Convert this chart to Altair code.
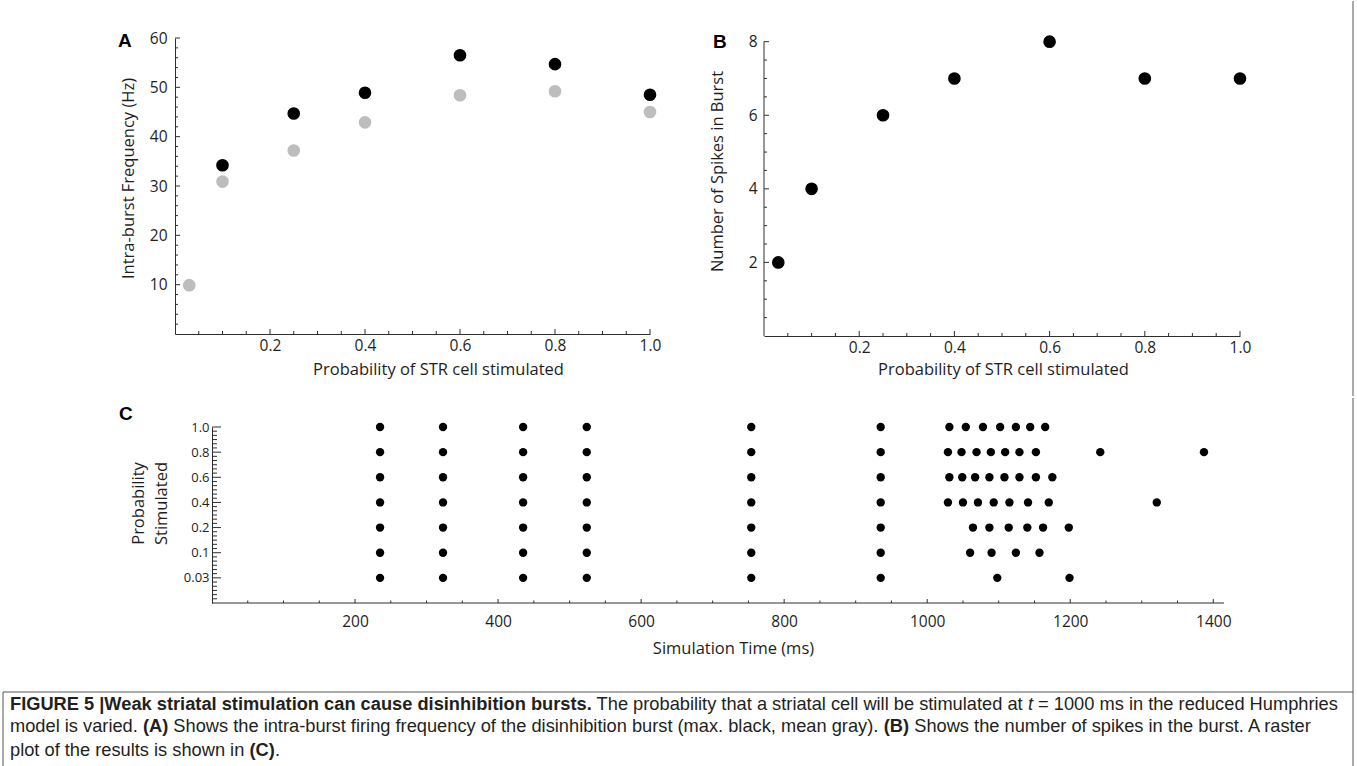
import json
import altair as alt
import pandas as pd

# ---------------- data ----------------
prob_mean = [0.03, 0.1, 0.25, 0.4, 0.6, 0.8, 1.0]
freq_mean = [9.9, 30.9, 37.2, 42.9, 48.4, 49.2, 45.0]
prob_max = [0.1, 0.25, 0.4, 0.6, 0.8, 1.0]
freq_max = [34.2, 44.7, 48.9, 56.5, 54.7, 48.5]
prob_spikes = [0.03, 0.1, 0.25, 0.4, 0.6, 0.8, 1.0]
n_spikes = [2, 4, 6, 7, 8, 7, 7]

raster_labels = ["0.03", "0.1", "0.2", "0.4", "0.6", "0.8", "1.0"]
shared_spikes = [235, 323, 435, 524, 754, 935]
burst_003 = [1098, 1199]
burst_01 = [1060, 1090, 1124, 1157]
burst_02 = [1064, 1087, 1114, 1140, 1162, 1198]
burst_04 = [1029, 1050, 1071, 1093, 1115, 1141, 1170, 1321]
burst_06 = [1031, 1049, 1067, 1087, 1108, 1129, 1152, 1175]
burst_08 = [1029, 1048, 1069, 1089, 1109, 1129, 1152, 1242, 1387]
burst_10 = [1031, 1054, 1078, 1102, 1124, 1144, 1165]
bursts = [burst_003, burst_01, burst_02, burst_04, burst_06, burst_08, burst_10]

# tick positions
a_x_major = [0.2, 0.4, 0.6, 0.8, 1.0]
a_x_minor = [round(0.05 * k, 2) for k in range(1, 20) if k % 4]
a_y_major = [10, 20, 30, 40, 50, 60]
a_y_minor = [k for k in range(2, 60, 2) if k % 10]
b_y_major = [2, 4, 6, 8]
b_y_minor = [k / 2 for k in range(1, 16) if k % 4]
c_x_major = [200, 400, 600, 800, 1000, 1200, 1400]
c_x_minor = [k for k in range(50, 1415, 50) if k % 200]
c_y_major = [1, 2, 3, 4, 5, 6, 7]
c_y_minor = [k / 6 for k in range(1, 42) if k % 6]
c_t_max = 1415

caption_lines = [
    [("FIGURE 5 |Weak striatal stimulation can cause disinhibition bursts.", "b"),
     (" The probability that a striatal cell will be stimulated at ", "n"),
     ("t", "i"),
     (" = 1000 ms in the reduced Humphries", "n")],
    [("model is varied. ", "n"), ("(A)", "b"),
     (" Shows the intra-burst firing frequency of the disinhibition burst (max. black, mean gray). ", "n"),
     ("(B)", "b"),
     (" Shows the number of spikes in the burst. A raster", "n")],
    [("plot of the results is shown in ", "n"), ("(C)", "b"), (".", "n")],
]

# ---------------- styling ----------------
AX = "#2e2e2e"
BLACK = "#000000"
GRAY = "#bdbdbd"
FONT = "Open Sans"
CAP_FONT = "Liberation Sans"

W_A, H_A = 475, 296
W_B, H_B = 476, 298
C_SHIFT = 37                      # raster axis starts this far right of panel A's axis
C_PX = 0.7152                     # pixels per ms in panel C
W_C, H_C = C_SHIFT + round(c_t_max * C_PX), 176

one = pd.DataFrame({"k": [0]})


def xticks(vals, length, scale, axis, H):
    return alt.Chart(pd.DataFrame({"v": vals})).mark_rule(color=AX, strokeWidth=1).encode(
        x=alt.X("v:Q", scale=scale, axis=axis),
        y=alt.value(H), y2=alt.value(H - length))


def label(txt, x, y, size=19):
    return alt.Chart(pd.DataFrame({"t": [txt]})).mark_text(
        font=CAP_FONT, fontWeight="bold", fontSize=size, align="left",
        baseline="middle", color=BLACK).encode(text="t:N", x=alt.value(x), y=alt.value(y))


def pixrule(x1, x2, y1, y2, color="#555555", opacity=1):
    return alt.Chart(one).mark_rule(color=color, strokeWidth=1, strokeOpacity=opacity).encode(
        x=alt.value(x1), x2=alt.value(x2), y=alt.value(y1), y2=alt.value(y2))


def anchor(x, y):
    return pixrule(x, x + 1, y, y, opacity=0)


def yticks_for(scale, axis, x0=0):
    def f(vals, length):
        return alt.Chart(pd.DataFrame({"w": vals})).mark_rule(color=AX, strokeWidth=1).encode(
            y=alt.Y("w:Q", scale=scale, axis=axis), x=alt.value(x0), x2=alt.value(x0 + length))
    return f


# ---------------- panel A ----------------
xA = alt.Scale(domain=[0, 1], nice=False, zero=False)
yA = alt.Scale(domain=[0, 60], nice=False, zero=False)
axA_x = alt.Axis(values=a_x_major, format=".1f", title="Probability of STR cell stimulated",
                 ticks=False, tickSize=0, labelPadding=4, titleX=263, titleY=35,
                 titleBaseline="middle", titleAlign="center")
axA_y = alt.Axis(values=a_y_major, format="d", title="Intra-burst Frequency (Hz)",
                 ticks=False, tickSize=0, labelPadding=8, titleX=-47, titleY=140,
                 titleAngle=-90, titleBaseline="middle", titleAlign="center")
dfA = pd.DataFrame({
    "v": prob_mean + prob_max,
    "w": freq_mean + freq_max,
    "stat": ["mean"] * len(prob_mean) + ["max"] * len(prob_max),
})
pointsA = alt.Chart(dfA).mark_circle(size=160, opacity=1).encode(
    x=alt.X("v:Q", scale=xA, axis=axA_x),
    y=alt.Y("w:Q", scale=yA, axis=axA_y),
    color=alt.Color("stat:N", scale=alt.Scale(domain=["mean", "max"], range=[GRAY, BLACK]), legend=None),
)
yticksA = yticks_for(yA, axA_y)
panelA = alt.layer(
    pointsA,
    xticks(a_x_minor, 3, xA, axA_x, H_A), xticks(a_x_major, 5, xA, axA_x, H_A),
    yticksA(a_y_minor, 3), yticksA(a_y_major, 5),
    label("A", -57, 3),
    anchor(-175, -37), anchor(499, 358),
).properties(width=W_A, height=H_A)

# ---------------- panel B ----------------
xB = alt.Scale(domain=[0, 1], nice=False, zero=False)
yB = alt.Scale(domain=[0, 8.1], nice=False, zero=False)
axB_x = alt.Axis(values=a_x_major, format=".1f", title="Probability of STR cell stimulated",
                 ticks=False, tickSize=0, labelPadding=4, titleX=239, titleY=33,
                 titleBaseline="middle", titleAlign="center")
axB_y = alt.Axis(values=b_y_major, format="d", title="Number of Spikes in Burst",
                 ticks=False, tickSize=0, labelPadding=7, domain=False, titleX=-47, titleY=133,
                 titleAngle=-90, titleBaseline="middle", titleAlign="center")
dfB = pd.DataFrame({"v": prob_spikes, "w": n_spikes})
pointsB = alt.Chart(dfB).mark_circle(size=160, opacity=1, color=BLACK).encode(
    x=alt.X("v:Q", scale=xB, axis=axB_x),
    y=alt.Y("w:Q", scale=yB, axis=axB_y),
)
yticksB = yticks_for(yB, axB_y)
yLineB = alt.Chart(pd.DataFrame({"w": [0], "hi": [8]})).mark_rule(color=AX, strokeWidth=1).encode(
    x=alt.value(0), y=alt.Y("w:Q", scale=yB, axis=axB_y), y2="hi:Q")
panelB = alt.layer(
    pointsB,
    yLineB,
    xticks(a_x_minor, 3, xB, axB_x, H_B), xticks(a_x_major, 5, xB, axB_x, H_B),
    yticksB(b_y_minor, 3), yticksB(b_y_major, 5),
    label("B", -51, 4),
    anchor(-89, -37), anchor(-89, 358),
    pixrule(589, 589, -37, 358),     # right border of the figure (upper part)
).properties(width=W_B, height=H_B)

# ---------------- panel C ----------------
rows_t, rows_r = [], []
for i, b in enumerate(bursts):
    for t in shared_spikes + b:
        rows_t.append(t)
        rows_r.append(i + 1)
dfC = pd.DataFrame({"v": rows_t, "w": rows_r})
xC = alt.Scale(domain=[-C_SHIFT / C_PX, c_t_max], nice=False, zero=False)
yC = alt.Scale(domain=[0, 7], nice=False, zero=False)
label_expr = json.dumps(raster_labels) + "[datum.value - 1]"
axC_x = alt.Axis(values=c_x_major, format="d", title="Simulation Time (ms)", domain=False,
                 ticks=False, tickSize=0, labelPadding=11, titleX=558, titleY=45,
                 titleBaseline="middle", titleAlign="center")
axC_y = alt.Axis(values=c_y_major, labelExpr=label_expr, labelFontSize=13, offset=-C_SHIFT,
                 title=["Probability", "Stimulated"], titleLineHeight=23,
                 ticks=False, tickSize=0, labelPadding=3, titleX=-73.5, titleY=76,
                 titleAngle=-90, titleBaseline="middle", titleAlign="center")
pointsC = alt.Chart(dfC).mark_circle(size=70, opacity=1, color=BLACK).encode(
    x=alt.X("v:Q", scale=xC, axis=axC_x),
    y=alt.Y("w:Q", scale=yC, axis=axC_y),
)
xLineC = alt.Chart(pd.DataFrame({"v": [0], "hi": [c_t_max]})).mark_rule(color=AX, strokeWidth=1).encode(
    x=alt.X("v:Q", scale=xC, axis=axC_x), x2="hi:Q", y=alt.value(H_C))
yticksC = yticks_for(yC, axC_y, x0=C_SHIFT)

# caption text (Arial / Liberation Sans metrics)
REG = {}
for chars, w in [("'", 191), ("ijl", 222), ("|", 260), (" !,./:;I[]ft", 278), ("()-r", 333),
                 ("Jckvxyzs", 500), ("0123456789abdeghnopqu_L?$", 556), ("=+<>", 584),
                 ("FTZ", 611), ("ABEKPSVXY", 667), ("CDHNRUw", 722), ("GOQ", 778),
                 ("Mm", 833), ("%", 889), ("W", 944)]:
    for ch in chars:
        REG[ch] = w
BOLD = {}
for chars, w in [(" !,./:;Iijl", 278), ("|", 280), ("()-ft", 333), ("r", 389), ("z", 500),
                 ("0123456789acehksvxyJ", 556), ("bdgnopquFLTZ", 611), ("ESPVXY", 667),
                 ("ABCDHKNRU", 722), ("GOQw", 778), ("M", 833), ("m", 889), ("W", 944)]:
    for ch in chars:
        BOLD[ch] = w


def em(s, style):
    tab = BOLD if style == "b" else REG
    return sum(tab.get(ch, 556) for ch in s) / 1000.0


cap_x0 = -165
cap_fs = 1328 / sum(em(s, st) for s, st in caption_lines[0])
cap_y = [277.6, 300, 323.5]
caption_layers = []
for line, yy in zip(caption_lines, cap_y):
    xx = cap_x0
    for s, st in line:
        lead = len(s) - len(s.lstrip(" "))
        shown = s.strip(" ")
        xdraw = xx + em(" " * lead, st) * cap_fs
        kw = {}
        if st == "b":
            kw["fontWeight"] = "bold"
        if st == "i":
            kw["fontStyle"] = "italic"
        if shown:
            caption_layers.append(
                alt.Chart(pd.DataFrame({"t": [shown]})).mark_text(
                    font=CAP_FONT, fontSize=cap_fs, align="left", baseline="middle",
                    color="#231f20", **kw).encode(text="t:N", x=alt.value(xdraw), y=alt.value(yy)))
        xx += em(s, st) * cap_fs

frame = [
    pixrule(1178, 1178, -29, 341),      # right border of the figure (lower part)
    pixrule(-172, 1178, 265, 265),      # caption box top
    pixrule(-172, -172, 265, 341),      # caption box left
]

panelC = alt.layer(
    pointsC,
    xLineC,
    xticks(c_x_minor, 2.5, xC, axC_x, H_C), xticks(c_x_major, 4, xC, axC_x, H_C),
    yticksC(c_y_minor, 5), yticksC(c_y_major, 9),
    label("C", -56, -13),
    anchor(-175, -29),
    *frame,
    *caption_layers,
).properties(width=W_C, height=H_C)

chart = alt.vconcat(
    alt.hconcat(panelA, panelB, spacing=0),
    panelC,
    spacing=0,
).properties(
    padding=0, background="white"
).configure_view(stroke=None).configure_axis(
    labelFont=FONT, labelFontSize=15.5, labelColor="#1e1e1e", labelFlush=False,
    titleFont=FONT, titleFontSize=16.5, titleFontWeight="normal", titleColor="#1e1e1e",
    domainColor=AX, domainWidth=1, grid=False,
)

chart.save("out.html", embed_options={"renderer": "svg", "actions": False})
